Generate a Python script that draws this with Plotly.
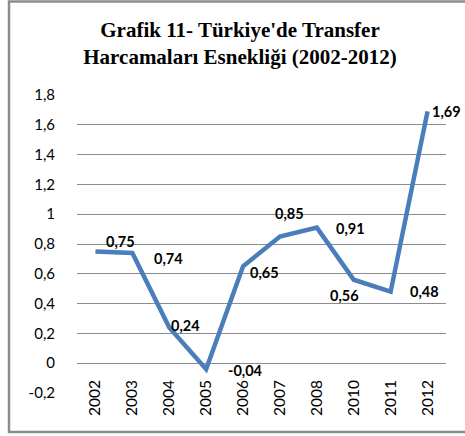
import plotly.graph_objects as go

years = ["2002", "2003", "2004", "2005", "2006", "2007", "2008", "2010", "2011", "2012"]
values = [0.75, 0.74, 0.24, -0.04, 0.65, 0.85, 0.91, 0.56, 0.48, 1.69]
labels = ["0,75", "0,74", "0,24", "-0,04", "0,65", "0,85", "0,91", "0,56", "0,48", "1,69"]
y_ticks = [-0.2, 0, 0.2, 0.4, 0.6, 0.8, 1, 1.2, 1.4, 1.6, 1.8]
y_tick_text = ["-0,2", "0", "0,2", "0,4", "0,6", "0,8", "1", "1,2", "1,4", "1,6", "1,8"]
# label offsets (px) relative to each point
offsets = [(25, 10), (36, -6), (16, 2), (39, -1), (21, -6), (10, 23), (34, -1), (-9, -16), (34, 0), (19, 0)]

fig = go.Figure()
fig.add_trace(go.Scatter(
    x=years, y=values, mode="lines",
    line=dict(color="#4a7ebb", width=4.5),
    hoverinfo="skip",
))

for i, (v, t, (dx, dy)) in enumerate(zip(values, labels, offsets)):
    fig.add_annotation(
        x=i, y=v, xref="x", yref="y", text=t, showarrow=False,
        xshift=dx, yshift=dy,
        font=dict(family="Lato", size=14.5, color="black", weight="bold"),
    )

L, R, T, B = 77, 19, 95, 43
W, H = 465, 436
pw, ph = W - L - R, H - T - B

def px_x(p):
    return (p - L) / pw

def px_y(p):
    return (H - B - p) / ph

xl, xr, yt, yb = px_x(9), px_x(480), px_y(1.5), px_y(432)
fig.add_shape(type="path", xref="paper", yref="paper",
              path=f"M {xr},{yt} L {xl},{yt} L {xl},{yb} L {xr},{yb}",
              line=dict(color="#8c8c8c", width=2.5), layer="below")

fig.update_layout(
    width=W, height=H,
    margin=dict(l=L, r=R, t=T, b=B),
    paper_bgcolor="white", plot_bgcolor="white",
    showlegend=False,
    title=dict(
        text="Grafik 11- Türkiye'de Transfer<br>Harcamaları Esnekliği (2002-2012)",
        x=240 / W, xanchor="center", xref="container",
        y=1 - 37 / H, yanchor="middle", yref="container",
        font=dict(family="Liberation Serif", size=21, color="black", weight="bold"),
    ),
)
fig.update_xaxes(
    type="category", range=[-0.5, 9.5], tickangle=-90, showgrid=False, showline=False,
    ticks="", ticklabelstandoff=-17, automargin=False,
    tickfont=dict(family="Lato", size=15.5, color="black"),
)
fig.update_yaxes(
    range=[-0.2, 1.8], tickvals=y_ticks, ticktext=y_tick_text,
    showgrid=True, gridcolor="#8c8c8c", gridwidth=1.2, zeroline=False,
    showline=False, ticks="", ticklabelstandoff=21, automargin=False,
    tickfont=dict(family="Lato", size=15, color="black"),
)

fig.write_html("out.html", config={"displayModeBar": False},
               post_script="document.body.style.margin='0px';")
